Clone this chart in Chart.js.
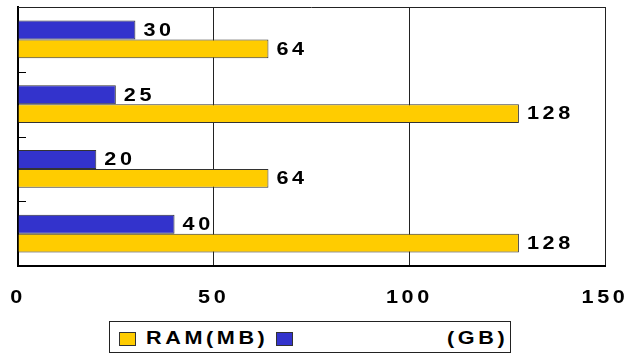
<!DOCTYPE html>
<html>
<head>
<meta charset="utf-8">
<script src="https://cdn.jsdelivr.net/npm/chart.js@4/dist/chart.umd.min.js"></script>
<style>
  html, body { margin: 0; padding: 0; background: #fff; }
  #wrap { position: relative; width: 626px; height: 354px; }
  #legend {
    position: absolute; left: 109px; top: 321px; width: 402px; height: 32px;
    border: 1px solid #222; box-sizing: border-box; background: #fff;
    font: bold 18px "Liberation Sans", Arial, sans-serif; letter-spacing: 3px; color: #000;
  }
  #legend .sw { position: absolute; top: 10px; width: 17px; height: 14px; border: 1px solid #333; box-sizing: border-box; }
  #legend .lb { position: absolute; top: 5px; line-height: 22px; white-space: pre; transform: scaleX(1.2); transform-origin: left center; }
</style>
</head>
<body>
<div id="wrap">
  <canvas id="chart" width="626" height="354"></canvas>
  <div id="legend">
    <span class="sw" style="left:9px;background:#FFCC00"></span>
    <span class="lb" style="left:36px">RAM(MB)</span>
    <span class="sw" style="left:166px;background:#3333CC"></span>
    <span class="lb" style="left:337px">(GB)</span>
  </div>
</div>
<script>
// 数据
const categories = ['1', '2', '3', '4'];
const diskGB = [30, 25, 20, 40];
const ramMB = [64, 128, 64, 128];
const xTicks = [0, 50, 100, 150];

const FONT = 'bold 18px "Liberation Sans", Arial, sans-serif';
const STRETCH = 1.2;

// 横向拉伸的文字
function wideText(ctx, text, x, y, align) {
  ctx.save();
  ctx.translate(x, y);
  ctx.scale(STRETCH, 1);
  ctx.textAlign = align;
  ctx.fillText(text, 0, 0);
  ctx.restore();
}

// 数值标签、刻度文字、边框
const drawExtras = {
  id: 'drawExtras',
  afterDraw(chart) {
    const ctx = chart.ctx;
    const area = chart.chartArea;
    const xs = chart.scales.x;
    const ys = chart.scales.y;
    ctx.save();

    // 上边框
    ctx.strokeStyle = '#222';
    ctx.lineWidth = 1;
    ctx.beginPath();
    ctx.moveTo(area.left, area.top + 0.5);
    ctx.lineTo(area.right, area.top + 0.5);
    ctx.stroke();

    // y 轴小刻度
    ctx.strokeStyle = '#000';
    for (let i = 1; i < categories.length; i++) {
      const y = Math.round((ys.getPixelForValue(i - 1) + ys.getPixelForValue(i)) / 2) + 0.5;
      ctx.beginPath();
      ctx.moveTo(area.left, y);
      ctx.lineTo(area.left + 8, y);
      ctx.stroke();
    }

    ctx.font = FONT;
    ctx.fillStyle = '#000';
    ctx.letterSpacing = '3px';
    ctx.textBaseline = 'middle';

    // x 轴刻度文字
    xTicks.forEach(v => {
      wideText(ctx, String(v), xs.getPixelForValue(v), 298, 'center');
    });

    // 数值标签
    chart.data.datasets.forEach((ds, di) => {
      const meta = chart.getDatasetMeta(di);
      meta.data.forEach((bar, i) => {
        wideText(ctx, String(ds.data[i]), bar.x + 8, bar.y + 1, 'left');
      });
    });
    ctx.restore();
  }
};

new Chart(document.getElementById('chart'), {
  type: 'bar',
  data: {
    labels: categories,
    datasets: [
      {
        label: '(GB)',
        data: diskGB,
        backgroundColor: '#3333CC',
        borderColor: '#333',
        borderWidth: 1
      },
      {
        label: 'RAM(MB)',
        data: ramMB,
        backgroundColor: '#FFCC00',
        borderColor: '#333',
        borderWidth: 1
      }
    ]
  },
  options: {
    indexAxis: 'y',
    responsive: false,
    animation: false,
    categoryPercentage: 0.58,
    barPercentage: 1,
    layout: { padding: { left: 18, right: 21, top: 7, bottom: 88 } },
    plugins: {
      legend: { display: false },
      tooltip: { enabled: false }
    },
    scales: {
      x: {
        min: 0,
        max: 150,
        ticks: { stepSize: 50, display: false },
        grid: { color: '#222', lineWidth: 1, drawTicks: false },
        border: { color: '#000', width: 2 },
        afterFit: s => { s.height = 0; }
      },
      y: {
        ticks: { display: false },
        grid: { display: false },
        border: { color: '#000', width: 2 },
        afterFit: s => { s.width = 0; }
      }
    }
  },
  plugins: [drawExtras]
});
</script>
</body>
</html>
